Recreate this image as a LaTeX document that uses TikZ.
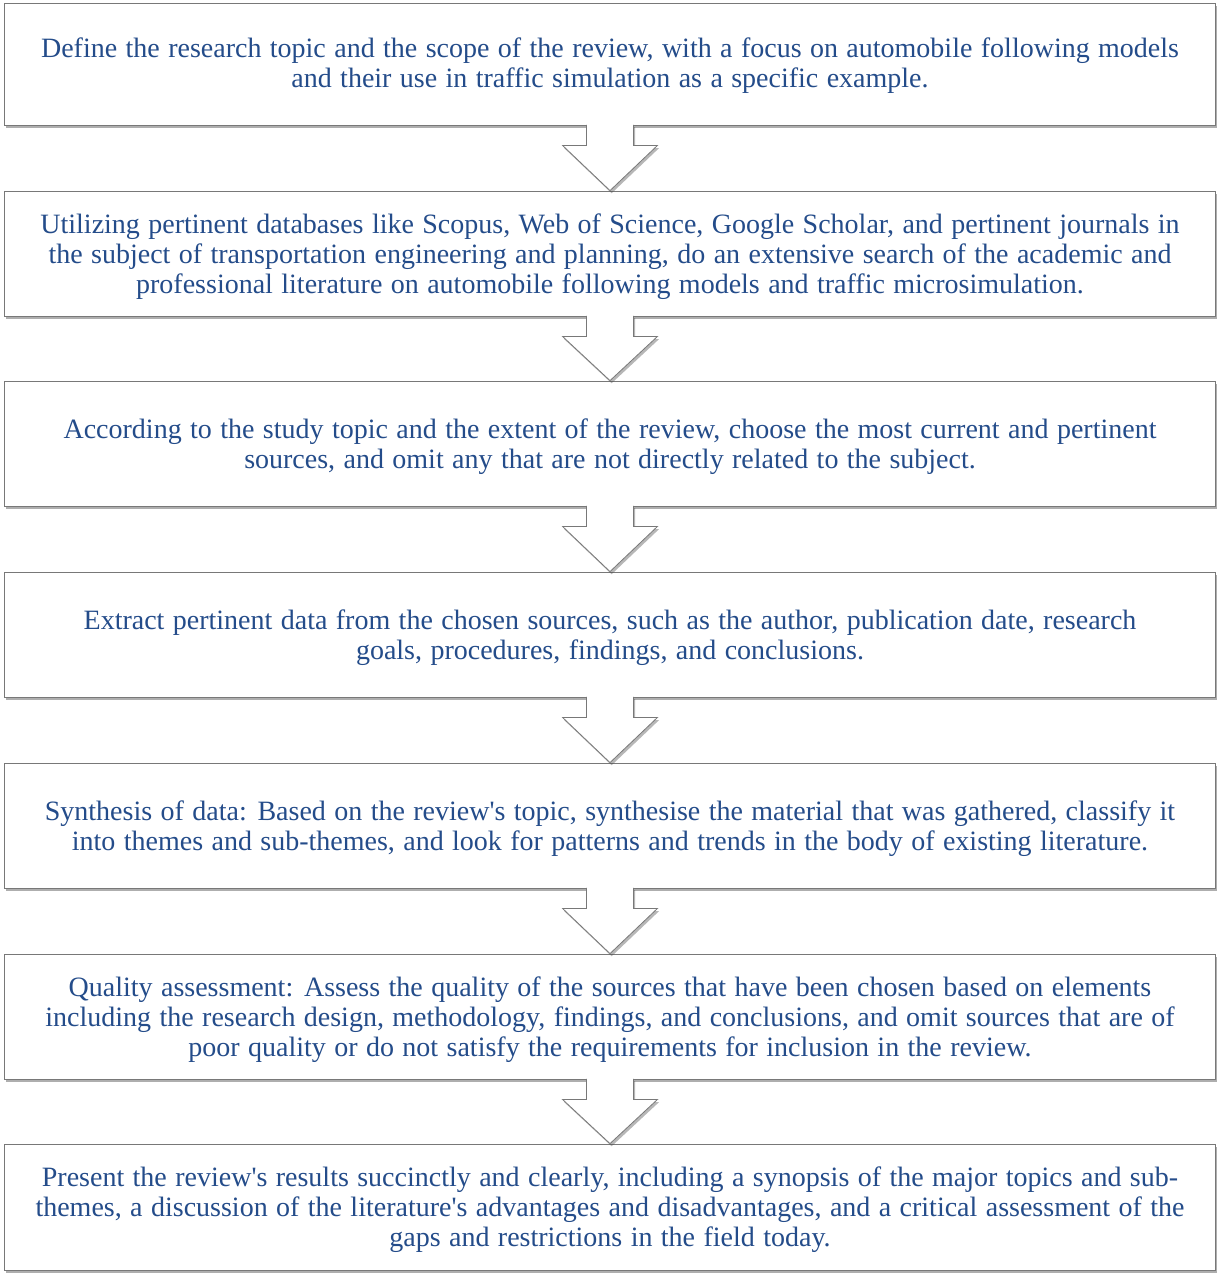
\documentclass[tikz,border=0pt]{standalone}
\usepackage{fontspec}
\setmainfont{Liberation Serif}[Ligatures=TeXOff]
\usetikzlibrary{calc,shadows}
\definecolor{txtblue}{RGB}{36,76,138}
\definecolor{edgegray}{RGB}{120,120,120}
\newcommand{\boxfont}{\fontsize{21}{22.5}\selectfont\spaceskip=0.3em plus 0.1em minus 0.05em\relax}
\tikzset{
  stepbox/.style={draw=edgegray, line width=0.6pt, fill=white,
    drop shadow={shadow xshift=1.2pt, shadow yshift=-2.2pt, opacity=0.45, fill=black!70},
    minimum width=908.25pt, inner sep=0pt},
  boxtext/.style={align=center, text=txtblue, inner sep=0pt, font=\boxfont},
  arrowfill/.style={fill=white, drop shadow={shadow xshift=1.2pt, shadow yshift=-2pt, opacity=0.4, fill=black!70}},
  arrowline/.style={draw=edgegray, line width=0.6pt, line join=miter}
}
\newcommand{\flowarrow}[2]{%
  \fill[arrowfill] ($(#1.south)+(-23.5,-1)$) -- ($(#1.south)+(-23.5,20)$) -- ($(#1.south)+(-47.5,20)$)
    -- (#2.north) -- ($(#1.south)+(47.5,20)$) -- ($(#1.south)+(23.5,20)$) -- ($(#1.south)+(23.5,-1)$) -- cycle;
  \draw[arrowline] ($(#1.south)+(-23.5,-0.5)$) -- ($(#1.south)+(-23.5,20)$) -- ($(#1.south)+(-47.5,20)$)
    -- (#2.north) -- ($(#1.south)+(47.5,20)$) -- ($(#1.south)+(23.5,20)$) -- ($(#1.south)+(23.5,-0.5)$);
}
\begin{document}
\begin{tikzpicture}[x=0.75pt,y=-0.75pt]
\useasboundingbox (0,0) rectangle (1217,1274);
\node[stepbox, minimum height=91.5pt] (b1) at (610,64) {};
\node[stepbox, minimum height=93.75pt] (b2) at (610,253.5) {};
\node[stepbox, minimum height=93.75pt] (b3) at (610,443.5) {};
\node[stepbox, minimum height=93.75pt] (b4) at (610,634.5) {};
\node[stepbox, minimum height=93.75pt] (b5) at (610,825.5) {};
\node[stepbox, minimum height=93.75pt] (b6) at (610,1016.5) {};
\node[stepbox, minimum height=94.5pt] (b7) at (610,1207) {};
\node[boxtext] (t1) at ($(b1.center)+(0,2)$)
  {Define the research topic and the scope of the review, with a focus on automobile following models\\and their use in traffic simulation as a specific example.};
\node[boxtext] (t2) at ($(b2.center)+(0,3)$)
  {Utilizing pertinent databases like Scopus, Web of Science, Google Scholar, and pertinent journals in\\the subject of transportation engineering and planning, do an extensive search of the academic and\\professional literature on automobile following models and traffic microsimulation.};
\node[boxtext] (t3) at ($(b3.center)+(0,3)$)
  {According to the study topic and the extent of the review, choose the most current and pertinent\\sources, and omit any that are not directly related to the subject.};
\node[boxtext] (t4) at ($(b4.center)+(0,3)$)
  {Extract pertinent data from the chosen sources, such as the author, publication date, research\\goals, procedures, findings, and conclusions.};
\node[boxtext] (t5) at ($(b5.center)+(0,3)$)
  {Synthesis of data: Based on the review's topic, synthesise the material that was gathered, classify it\\into themes and sub-themes, and look for patterns and trends in the body of existing literature.};
\node[boxtext] (t6) at ($(b6.center)+(0,3)$)
  {Quality assessment: Assess the quality of the sources that have been chosen based on elements\\including the research design, methodology, findings, and conclusions, and omit sources that are of\\poor quality or do not satisfy the requirements for inclusion in the review.};
\node[boxtext] (t7) at ($(b7.center)+(0,3)$)
  {Present the review's results succinctly and clearly, including a synopsis of the major topics and sub-\\themes, a discussion of the literature's advantages and disadvantages, and a critical assessment of the\\gaps and restrictions in the field today.};
\flowarrow{b1}{b2}
\flowarrow{b2}{b3}
\flowarrow{b3}{b4}
\flowarrow{b4}{b5}
\flowarrow{b5}{b6}
\flowarrow{b6}{b7}
\end{tikzpicture}
\end{document}
